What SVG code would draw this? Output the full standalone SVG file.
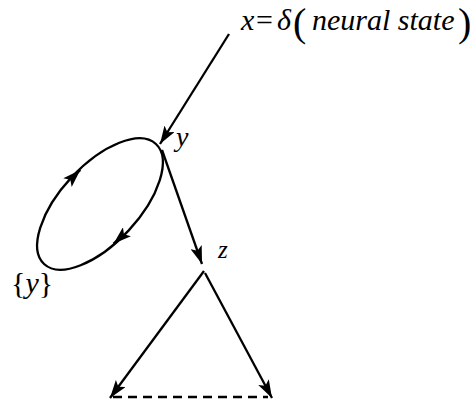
<svg xmlns="http://www.w3.org/2000/svg" width="474" height="407" viewBox="0 0 474 407">
<style>
.ln{stroke:#000;stroke-width:2.3;fill:none}
.t{font-family:'Liberation Serif','DejaVu Serif',serif;font-style:italic;fill:#000}
.n{font-style:normal}
</style>
<defs>
<marker id="ah" viewBox="0 0 18 12" refX="18" refY="6" markerWidth="18" markerHeight="12" markerUnits="userSpaceOnUse" orient="auto">
<path d="M0,0 L18,6 L0,12 L4,6 z" fill="#000"/>
</marker>
</defs>
<rect width="474" height="407" fill="#fff"/>
<g id="x">
<text class="t" y="30" font-size="30"><tspan x="241">x</tspan><tspan class="n" x="256">=</tspan><tspan x="277">δ</tspan><tspan class="n" x="293" y="36" font-size="40">(</tspan><tspan x="312" y="30">neural state</tspan><tspan class="n" x="458" y="36" font-size="40">)</tspan></text>
</g>
<g id="y">
<text class="t" x="176" y="146" font-size="28">y</text>
</g>
<g id="cycle">
<ellipse class="ln" cx="100" cy="204" rx="82" ry="39" transform="rotate(-47 100 204)"/>
<text class="t" x="11" y="293" font-size="30"><tspan class="n">{</tspan>y<tspan class="n">}</tspan></text>
</g>
<g id="z">
<text class="t" x="218" y="258" font-size="25">z</text>
</g>
<g id="connectors">
<path class="ln" d="M229,34 L160,144" marker-end="url(#ah)"/>
<path class="ln" d="M162,150 L202,264" marker-end="url(#ah)"/>
<path class="ln" d="M204,271 L110,398" marker-end="url(#ah)"/>
<path class="ln" d="M205,273 L272,398" marker-end="url(#ah)"/>
<path class="ln" d="M113,397 L268,397" stroke-dasharray="9,6"/>
<path class="ln" d="M72.7,177.5 L80.3,170" marker-end="url(#ah)"/>
<path class="ln" d="M121,237 L113.5,243.7" marker-end="url(#ah)"/>
</g>
</svg>
